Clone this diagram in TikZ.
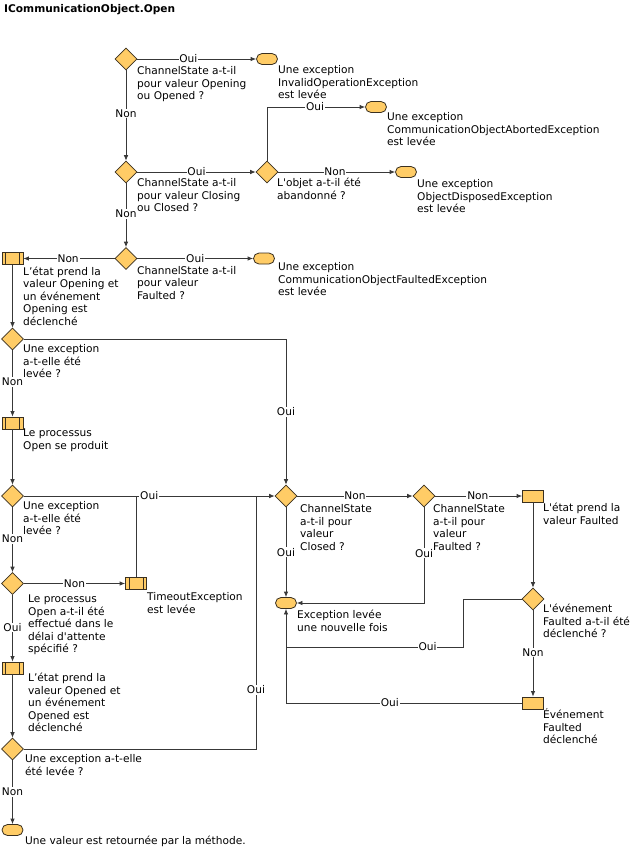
\documentclass[tikz,border=0pt]{standalone}
\usepackage{fontspec}
\newfontfamily\dvs{DejaVu Sans}
\usetikzlibrary{shapes.geometric,arrows.meta}
\definecolor{fillc}{HTML}{FFCC66}
\definecolor{linec}{HTML}{383838}
\definecolor{edgec}{HTML}{3A3020}
\newcommand\mytx[1]{\begin{tabular}[t]{@{}l@{}}#1\end{tabular}}
\newcommand\myfont{\dvs\fontsize{10.6}{12.5}\selectfont}
\tikzset{
  dec/.style={diamond, aspect=1, draw=edgec, fill=fillc, minimum width=22pt, minimum height=22pt, inner sep=0pt, line width=0.6pt},
  term/.style={rectangle, rounded corners=5.5pt, draw=edgec, fill=fillc, minimum width=21pt, minimum height=11pt, inner sep=0pt, line width=0.8pt},
  proc/.style={rectangle, draw=edgec, fill=fillc, minimum width=21pt, minimum height=12pt, inner sep=0pt, line width=0.8pt,
    path picture={
      \draw[edgec, line width=0.6pt] ([xshift=3.5pt]path picture bounding box.north west) -- ([xshift=3.5pt]path picture bounding box.south west);
      \draw[edgec, line width=0.6pt] ([xshift=-3.5pt]path picture bounding box.north east) -- ([xshift=-3.5pt]path picture bounding box.south east);}},
  plain/.style={rectangle, draw=edgec, fill=fillc, minimum width=21pt, minimum height=12pt, inner sep=0pt, line width=0.8pt},
  txt/.style={anchor=base west, inner sep=0pt, font=\myfont},
  lbl/.style={fill=white, inner sep=0.8pt, font=\myfont},
  conn/.style={draw=linec, line width=0.8pt, -{Latex[length=5.5pt,width=4.5pt]}},
  link/.style={draw=linec, line width=0.8pt},
}
\begin{document}
\begin{tikzpicture}[x=1pt,y=-1pt]
\useasboundingbox (0,0) rectangle (637,847);
\fill[white] (0,0) rectangle (637,847);

% title
\node[txt, font=\myfont\bfseries] (title) at (4,12) {ICommunicationObject.Open};

% shapes
\node[dec] (d1) at (126,59) {};
\node[dec] (d2) at (126,172) {};
\node[dec] (d3) at (126,258.5) {};
\node[dec] (d4) at (267,172) {};
\node[dec] (d5) at (12.5,339) {};
\node[dec] (d6) at (12.5,496) {};
\node[dec] (d7) at (286,496) {};
\node[dec] (d8) at (12.5,583.5) {};
\node[dec] (d9) at (12.5,749) {};
\node[dec] (d10) at (424,496) {};
\node[dec] (d11) at (533,599) {};

\node[term] (t1) at (267,59) {};
\node[term] (t2) at (376,107) {};
\node[term] (t3) at (406,172) {};
\node[term] (t4) at (264,258.5) {};
\node[term] (t5) at (286,603) {};
\node[term] (t6) at (12.5,830) {};

\node[proc] (p1) at (12.5,258.5) {};
\node[proc] (p2) at (12.5,423) {};
\node[proc] (p3) at (136,583.5) {};
\node[proc] (p4) at (12.5,668) {};
\node[plain] (r1) at (533,496) {};
\node[plain] (r2) at (533,703) {};

% texts
\node[txt] (xd1) at (137,74.5) {\mytx{ChannelState a-t-il\\pour valeur Opening\\ou Opened ?}};
\node[txt] (xt1) at (278,73.5) {\mytx{Une exception\\InvalidOperationException\\est levée}};
\node[txt] (xt2) at (387,120.5) {\mytx{Une exception\\CommunicationObjectAbortedException\\est levée}};
\node[txt] (xd4) at (277,186.5) {\mytx{L'objet a-t-il été\\abandonné ?}};
\node[txt] (xt3) at (417,187.5) {\mytx{Une exception\\ObjectDisposedException\\est levée}};
\node[txt] (xd2) at (137,186.8) {\mytx{ChannelState a-t-il\\pour valeur Closing\\ou Closed ?}};
\node[txt] (xd3) at (137,274) {\mytx{ChannelState a-t-il\\pour valeur\\Faulted ?}};
\node[txt] (xt4) at (278,270.5) {\mytx{Une exception\\CommunicationObjectFaultedException\\est levée}};
\node[txt] (xp1) at (23,275) {\mytx{L’état prend la\\valeur Opening et\\un événement\\Opening est\\déclenché}};
\node[txt] (xd5) at (23,352.5) {\mytx{Une exception\\a-t-elle été\\levée ?}};
\node[txt] (xp2) at (23,436.5) {\mytx{Le processus\\Open se produit}};
\node[txt] (xd6) at (23,509.5) {\mytx{Une exception\\a-t-elle été\\levée ?}};
\node[txt] (xd8) at (28,602.5) {\mytx{Le processus\\Open a-t-il été\\effectué dans le\\délai d'attente\\spécifié ?}};
\node[txt] (xp3) at (147,600.5) {\mytx{TimeoutException\\est levée}};
\node[txt] (xp4) at (28,681.5) {\mytx{L’état prend la\\valeur Opened et\\un événement\\Opened est\\déclenché}};
\node[txt] (xd9) at (25,762.5) {\mytx{Une exception a-t-elle\\été levée ?}};
\node[txt] (xt6) at (25,844.5) {Une valeur est retournée par la méthode.};
\node[txt] (xd7) at (300,512.5) {\mytx{ChannelState\\a-t-il pour\\valeur\\Closed ?}};
\node[txt] (xd10) at (433,512.5) {\mytx{ChannelState\\a-t-il pour\\valeur\\Faulted ?}};
\node[txt] (xr1) at (543,511.5) {\mytx{L'état prend la\\valeur Faulted}};
\node[txt] (xt5) at (297,618.5) {\mytx{Exception levée\\une nouvelle fois}};
\node[txt] (xd11) at (543,612.5) {\mytx{L'événement\\Faulted a-t-il été\\déclenché ?}};
\node[txt] (xr2) at (543,718.5) {\mytx{Événement\\Faulted\\déclenché}};

% junction coordinates
\coordinate (j1) at (136,496);
\coordinate (j2) at (256,496);
\coordinate (c1) at (463,599);
\coordinate (c2) at (463,647);
\coordinate (c3) at (286,647);
\coordinate (c4) at (286,703);

% connectors
\draw[conn] (d1.east) -- node[lbl,pos=.43] (l1) {Oui} (t1.west);
\draw[conn] (d1.south) -- node[lbl,pos=.48] (l2) {Non} (d2.north);
\draw[conn] (d2.east) -- node[lbl,pos=.5] (l3) {Oui} (d4.west);
\draw[conn] (d4.north) |- node[lbl,pos=.745] (l4) {Oui} (t2.west);
\draw[conn] (d4.east) -- node[lbl,pos=.485] (l5) {Non} (t3.west);
\draw[conn] (d2.south) -- node[lbl,pos=.48] (l6) {Non} (d3.north);
\draw[conn] (d3.east) -- node[lbl,pos=.5] (l7) {Oui} (t4.west);
\draw[conn] (d3.west) -- node[lbl,pos=.51] (l8) {Non} (p1.east);
\draw[conn] (p1.south) -- (d5.north);
\draw[conn] (d5.east) -| node[lbl,pos=.75] (l10) {Oui} (d7.north);
\draw[conn] (d5.south) -- node[lbl,pos=.48] (l11) {Non} (p2.north);
\draw[conn] (p2.south) -- (d6.north);
\draw[conn] (d6.east) -- node[lbl,pos=.5] (l13) {Oui} (d7.west);
\draw[conn] (d6.south) -- node[lbl,pos=.49] (l14) {Non} (d8.north);
\draw[conn] (d8.east) -- node[lbl,pos=.5] (l15) {Non} (p3.west);
\draw[link] (p3.north) -- (j1);
\draw[conn] (d8.south) -- node[lbl,pos=.49] (l17) {Oui} (p4.north);
\draw[conn] (p4.south) -- (d9.north);
\draw[link] (d9.east) -| node[lbl,pos=.617] (l19) {Oui} (j2);
\draw[conn] (d9.south) -- node[lbl,pos=.5] (l20) {Non} (t6.north);
\draw[conn] (d7.east) -- node[lbl,pos=.5] (l21) {Non} (d10.west);
\draw[conn] (d7.south) -- node[lbl,pos=.5] (l22) {Oui} (t5.north);
\draw[conn] (d10.east) -- node[lbl,pos=.49] (l23) {Non} (r1.west);
\draw[conn] (d10.south) |- node[lbl,pos=.24] (l24) {Oui} (t5.east);
\draw[conn] (r1.south) -- (d11.north);
\draw[link] (d11.west) -- (c1) -- (c2) -- node[lbl,pos=.2] (l26) {Oui} (c3);
\draw[conn] (d11.south) -- node[lbl,pos=.49] (l27) {Non} (r2.north);
\draw[conn] (r2.west) -- node[lbl,pos=.56] (l28) {Oui} (c4) -- (t5.south);
\end{tikzpicture}
\end{document}
